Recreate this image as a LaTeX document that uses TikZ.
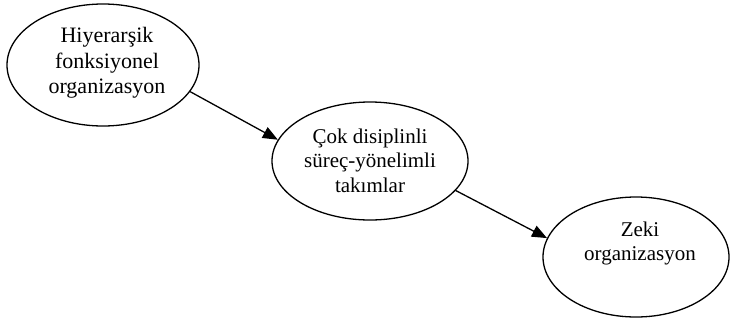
\documentclass[tikz,border=0pt]{standalone}
\usepackage{fontspec}
\setmainfont{Liberation Serif}
\usetikzlibrary{shapes.geometric,arrows.meta}
\begin{document}
\begin{tikzpicture}[x=1pt,y=-1pt,
  oval/.style={ellipse,draw,line width=1.3pt,inner sep=0pt},
  txt/.style={align=center,inner sep=0pt,font=\fontsize{21}{24.5}\selectfont},
  conn/.style={line width=1.3pt,-{Triangle[length=15pt,width=12pt]}}]
\useasboundingbox (0,0) rectangle (730,325);
\node[oval,minimum width=192pt,minimum height=122pt] (e1) at (103,65) {};
\node[oval,minimum width=196pt,minimum height=118pt] (e2) at (370,161) {};
\node[oval,minimum width=186pt,minimum height=120pt] (e3) at (636,257) {};
\node[txt,font=\fontsize{22}{25.5}\selectfont] (t1) at ([xshift=4pt,yshift=2pt]e1.center) {Hiyerarşik\\fonksiyonel\\organizasyon};
\node[txt] (t2) at ([yshift=0.5pt]e2.center) {Çok disiplinli\\süreç-yönelimli\\takımlar};
\node[txt] (t3) at ([xshift=4pt,yshift=13.5pt]e3.center) {Zeki\\organizasyon};
\draw[conn] (e1.-17.8) -- (e2.167);
\draw[conn] (e2.-19.6) -- (e3.168);
\end{tikzpicture}
\end{document}
